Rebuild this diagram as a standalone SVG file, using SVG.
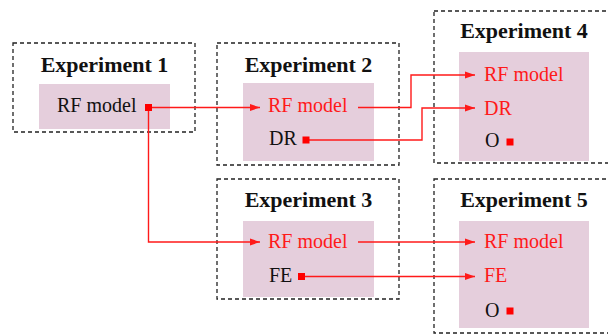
<svg xmlns="http://www.w3.org/2000/svg" width="608" height="335" viewBox="0 0 608 335">
  <style>
    .frame { fill: none; stroke: #222; stroke-width: 1.3; stroke-dasharray: 4 3; }
    .panel { fill: #e5cedc; stroke: none; }
    .title { font-weight: bold; font-size: 22px; fill: #111; text-anchor: middle; }
    .item { font-size: 20px; fill: #111; }
    .hl { fill: #ff1a1a; }
    .wire { fill: none; stroke: #ff1a1a; stroke-width: 1.4; }
    .dot { fill: #ff0000; }
  </style>
  <defs>
    <marker id="arrow" markerUnits="userSpaceOnUse" markerWidth="11" markerHeight="8" refX="10" refY="4" orient="auto">
      <path d="M0,0.5 L10,4 L0,7.5 z" fill="#ff1a1a"/>
    </marker>
  </defs>

  <rect width="608" height="335" fill="#ffffff"/>

  <g font-family="Liberation Serif, DejaVu Serif, serif">
  <g id="experiment-1">
    <rect class="frame" x="13" y="43" width="182" height="89"/>
    <rect class="panel" x="39" y="84" width="131" height="45"/>
    <text class="title" x="104.5" y="72">Experiment 1</text>
    <text class="item" x="57" y="112">RF model</text>
  </g>

  <g id="experiment-2">
    <rect class="frame" x="217" y="43" width="182" height="122"/>
    <rect class="panel" x="243" y="83" width="131" height="78"/>
    <text class="title" x="308.5" y="72">Experiment 2</text>
    <text class="item hl" x="268" y="112">RF model</text>
    <text class="item" x="269" y="145">DR</text>
  </g>

  <g id="experiment-3">
    <rect class="frame" x="217" y="179" width="182" height="120"/>
    <rect class="panel" x="243" y="221" width="131" height="76"/>
    <text class="title" x="308.5" y="207">Experiment 3</text>
    <text class="item hl" x="268" y="248">RF model</text>
    <text class="item" x="269" y="282">FE</text>
  </g>

  <g id="experiment-4">
    <rect class="frame" x="434" y="11" width="190" height="152"/>
    <rect class="panel" x="459" y="52" width="130" height="109"/>
    <text class="title" x="524" y="38">Experiment 4</text>
    <text class="item hl" x="484" y="81">RF model</text>
    <text class="item hl" x="484" y="115">DR</text>
    <text class="item" x="485" y="147">O</text>
    <rect class="dot" x="506.5" y="138.5" width="7" height="7"/>
  </g>

  <g id="experiment-5">
    <rect class="frame" x="434" y="179" width="190" height="154"/>
    <rect class="panel" x="459" y="221" width="130" height="107"/>
    <text class="title" x="524" y="207">Experiment 5</text>
    <text class="item hl" x="484" y="248">RF model</text>
    <text class="item hl" x="484" y="282">FE</text>
    <text class="item" x="485" y="317">O</text>
    <rect class="dot" x="506.5" y="307.5" width="7" height="7"/>
  </g>
  </g>

  <g id="connectors">
    <!-- Experiment 1 RF model feeds Experiments 2 and 3 -->
    <path class="wire" d="M148.5,107.5 H260" marker-end="url(#arrow)"/>
    <path class="wire" d="M148.5,107.5 V242 H260" marker-end="url(#arrow)"/>
    <rect class="dot" x="145" y="104" width="7" height="7"/>
    <!-- Experiment 2 outputs into Experiment 4 -->
    <path class="wire" d="M358,107.5 H411 V75 H475" marker-end="url(#arrow)"/>
    <path class="wire" d="M306,140 H422 V108 H475" marker-end="url(#arrow)"/>
    <rect class="dot" x="302.5" y="136.5" width="7" height="7"/>
    <!-- Experiment 3 outputs into Experiment 5 -->
    <path class="wire" d="M358,242 H475" marker-end="url(#arrow)"/>
    <path class="wire" d="M301.5,276.5 H475" marker-end="url(#arrow)"/>
    <rect class="dot" x="298" y="273" width="7" height="7"/>
  </g>
</svg>
